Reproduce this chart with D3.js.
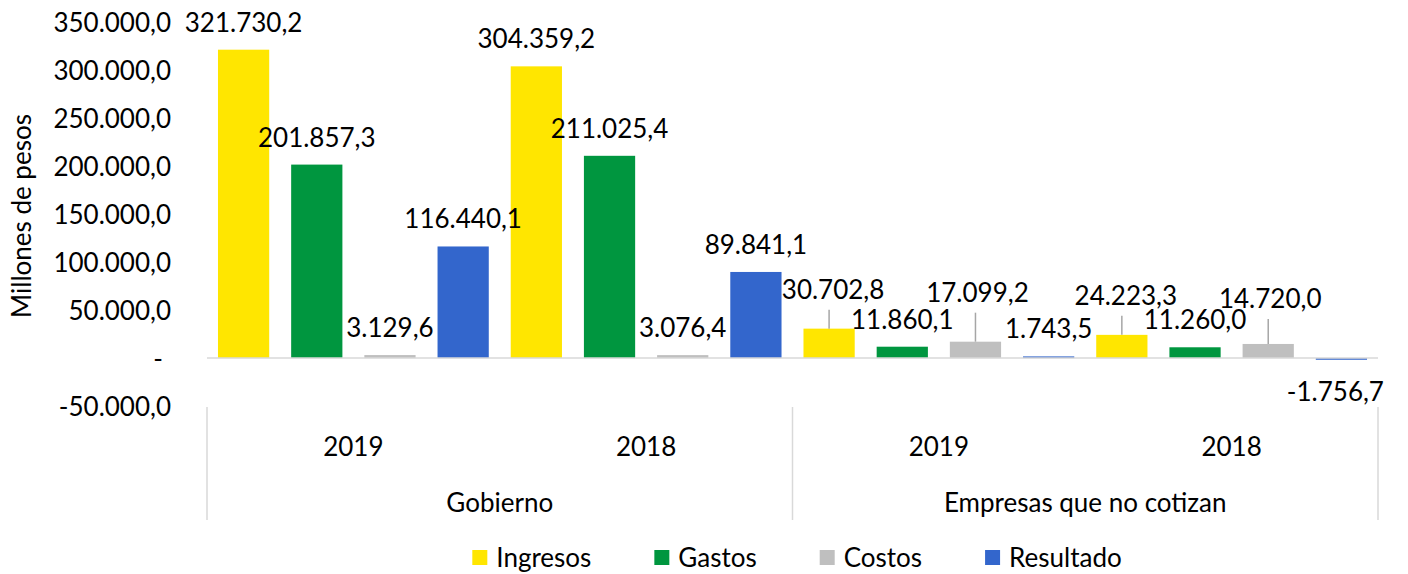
<!DOCTYPE html>
<html>
<head>
<meta charset="utf-8">
<script src="https://cdn.jsdelivr.net/npm/d3@7"></script>
<style>
  body { margin: 0; background: #fff; }
  text { font-family: Lato, "Open Sans", sans-serif; fill: #000; }
</style>
</head>
<body>
<div id="chart-area"></div>
<script>
/* grouped bars: Gobierno vs Empresas que no cotizan, 2019 / 2018 */

var groups = ["Gobierno", "Empresas que no cotizan"];
var years = ["2019", "2018"];
var seriesNames = ["Ingresos", "Gastos", "Costos", "Resultado"];

// one value per (group, year), same order as the categories below
var ingresos  = [321730.2, 304359.2, 30702.8, 24223.3];
var gastos    = [201857.3, 211025.4, 11860.1, 11260.0];
var costos    = [3129.6, 3076.4, 17099.2, 14720.0];
var resultado = [116440.1, 89841.1, 1743.5, -1756.7];

var yTicks = [-50000, 0, 50000, 100000, 150000, 200000, 250000, 300000, 350000];
var yTitle = "Millones de pesos";

var colours = ["#FFE600", "#00963F", "#BFBFBF", "#3366CC"];

// labels that were dragged away from their bar in the original (px nudges)
var labelNudge = {
  "2-0": { dx: 4, dy: -12 },
  "2-2": { dx: 2, dy: -22 },
  "3-0": { dx: 4, dy: -12 },
  "3-2": { dx: 2, dy: -18 },
  "3-3": { dx: -6, dy: 17 }
};

/************* LAYOUT ***********************/
var W = 1408, H = 574;
var plot = { left: 207, right: 1378, top: 0, bottom: 0 };

var svg = d3.select("#chart-area").append("svg")
    .attr("width", W)
    .attr("height", H);

var locale = d3.formatLocale({ decimal: ",", thousands: ".", grouping: [3], currency: ["$", ""], minus: "-" });
var fmt = locale.format(",.1f");

// rows of the table: category = group x year
var cats = [];
groups.forEach(function(g) {
  years.forEach(function(yr) { cats.push({ group: g, year: yr }); });
});
var allSeries = [ingresos, gastos, costos, resultado];
var rows = [];
cats.forEach(function(c, ci) {
  seriesNames.forEach(function(s, si) {
    rows.push({ ci: ci, si: si, group: c.group, year: c.year, series: s, value: allSeries[si][ci] });
  });
});

/************* SCALES ***********************/
var y = d3.scaleLinear()
    .domain([-50000, 350000])
    .range([406, 22.6]);

var xGroup = d3.scaleBand().domain(groups).range([plot.left, plot.right]);
var xYear = d3.scaleBand().domain(years).range([0, xGroup.bandwidth()]);
var xSeries = d3.scaleBand().domain(seriesNames)
    .range([0, xYear.bandwidth()])
    .paddingInner(0.3)
    .paddingOuter(0.15);

function barX(d) { return xGroup(d.group) + xYear(d.year) + xSeries(d.series); }
function barMid(d) { return barX(d) + xSeries.bandwidth() / 2; }

/************* Y AXIS ***********************/
var yAxisCall = d3.axisLeft(y)
    .tickValues(yTicks)
    .tickSize(0)
    .tickPadding(0)
    .tickFormat(function(d) { return d === 0 ? "-" : fmt(d); });

var yAxis = svg.append("g")
    .attr("transform", "translate(171,0)")
    .call(yAxisCall);
yAxis.select(".domain").remove();
yAxis.selectAll("text")
    .attr("font-size", "26px")
    .attr("font-family", "Lato, sans-serif")
    .attr("dy", "0.36em")
    .attr("x", function(d) { return d === 0 ? -8 : 0; });

svg.append("text")
    .attr("transform", "translate(31,216) rotate(-90)")
    .attr("text-anchor", "middle")
    .attr("font-size", "26px")
    .text(yTitle);

/************* BARS ***********************/
svg.append("g").selectAll("rect")
  .data(rows)
  .enter().append("rect")
    .attr("x", barX)
    .attr("width", xSeries.bandwidth())
    .attr("y", function(d) { return y(Math.max(0, d.value)); })
    .attr("height", function(d) { return Math.abs(y(d.value) - y(0)); })
    .attr("fill", function(d) { return colours[d.si]; });

// zero line
svg.append("line")
    .attr("x1", plot.left).attr("x2", plot.right)
    .attr("y1", y(0)).attr("y2", y(0))
    .attr("stroke", "#D9D9D9")
    .attr("stroke-width", 1.5);

/************* DATA LABELS ***********************/
function labelPos(d) {
  var n = labelNudge[d.ci + "-" + d.si] || { dx: 0, dy: 0 };
  var base = d.value >= 0 ? y(d.value) - 18 : y(d.value) + 24;
  return { x: barMid(d) + n.dx, y: base + n.dy, moved: n.dy < -5 };
}

// leader lines for the labels that were pulled up
svg.append("g").selectAll("line")
  .data(rows.filter(function(d) { return labelPos(d).moved; }))
  .enter().append("line")
    .attr("x1", function(d) { return barMid(d); })
    .attr("x2", function(d) { return barMid(d); })
    .attr("y1", function(d) { return y(d.value); })
    .attr("y2", function(d) { return labelPos(d).y + 11; })
    .attr("stroke", "#A6A6A6")
    .attr("stroke-width", 1.5);

svg.append("g").selectAll("text")
  .data(rows)
  .enter().append("text")
    .attr("x", function(d) { return labelPos(d).x; })
    .attr("y", function(d) { return labelPos(d).y; })
    .attr("text-anchor", "middle")
    .attr("font-size", "26px")
    .text(function(d) { return fmt(d.value); });

/************* CATEGORY AXIS (two levels) ***********************/
var sepX = groups.map(function(g) { return xGroup(g); }).concat([plot.right]);
svg.append("g").selectAll("line")
  .data(sepX)
  .enter().append("line")
    .attr("x1", function(d) { return d; })
    .attr("x2", function(d) { return d; })
    .attr("y1", 407).attr("y2", 520)
    .attr("stroke", "#D9D9D9")
    .attr("stroke-width", 1.5);

svg.append("g").selectAll("text")
  .data(cats)
  .enter().append("text")
    .attr("x", function(d) { return xGroup(d.group) + xYear(d.year) + xYear.bandwidth() / 2; })
    .attr("y", 456)
    .attr("text-anchor", "middle")
    .attr("font-size", "26px")
    .text(function(d) { return d.year; });

svg.append("g").selectAll("text")
  .data(groups)
  .enter().append("text")
    .attr("x", function(d) { return xGroup(d) + xGroup.bandwidth() / 2; })
    .attr("y", 512)
    .attr("text-anchor", "middle")
    .attr("font-size", "26px")
    .text(function(d) { return d; });

/************* LEGEND ***********************/
var legend = svg.append("g");
var items = legend.selectAll("g")
  .data(seriesNames)
  .enter().append("g");
items.append("rect")
    .attr("width", 15).attr("height", 15)
    .attr("y", 550)
    .attr("fill", function(d, i) { return colours[i]; });
items.append("text")
    .attr("x", 24)
    .attr("y", 567)
    .attr("font-size", "26px")
    .text(function(d) { return d; });

var pos = 0, widths = [];
items.each(function() {
  var w = 24 + d3.select(this).select("text").node().getComputedTextLength();
  widths.push(pos);
  pos += w + 63;
});
var total = pos - 63;
var start = 797 - total / 2;
items.attr("transform", function(d, i) { return "translate(" + (start + widths[i]) + ",0)"; });
</script>
</body>
</html>
